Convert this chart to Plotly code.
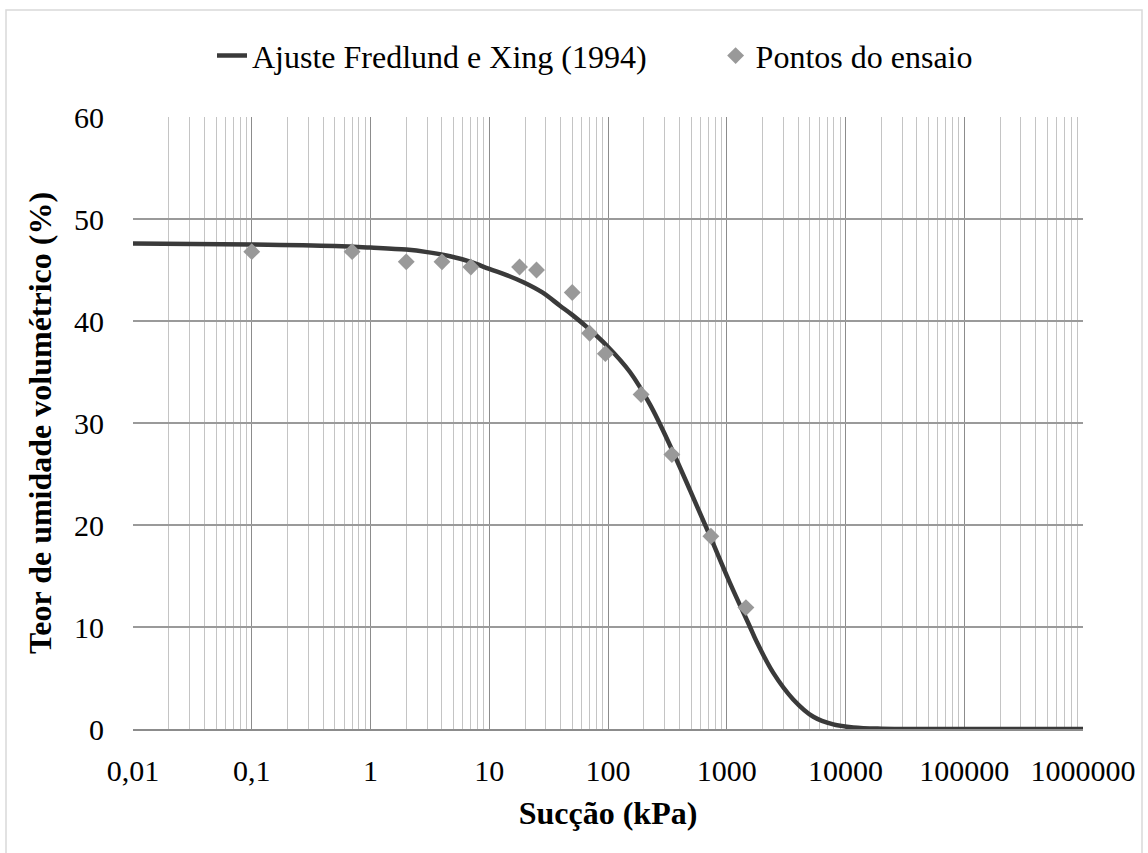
import plotly.graph_objects as go

# ---- data ----
tick_vals = [0.01, 0.1, 1, 10, 100, 1000, 10000, 100000, 1000000]
tick_text = ["0,01", "0,1", "1", "10", "100", "1000", "10000", "100000", "1000000"]
y_ticks = [0, 10, 20, 30, 40, 50, 60]

curve_x = [0.01, 0.1, 0.5, 1, 2, 3, 4.67, 7, 10, 14, 19.4, 28, 39.4, 50, 68, 97.5, 153, 226, 333, 491,
           723, 1065, 1570, 1762, 2466, 3630, 5360, 7890, 11640, 20000, 50000, 1000000]
curve_y = [47.6, 47.5, 47.35, 47.2, 47.0, 46.75, 46.35, 45.8, 45.1, 44.5, 43.8, 42.8, 41.5, 40.6, 39.3, 37.6, 35.0, 31.8, 27.8, 23.4,
           18.9, 14.3, 10.0, 8.7, 5.5, 2.9, 1.2, 0.45, 0.15, 0.03, 0.0, 0.0]

pts_x = [0.1, 0.7, 2, 4, 7, 18, 25, 50, 70, 95, 190, 345, 735, 1450]
pts_y = [46.8, 46.8, 45.8, 45.8, 45.3, 45.3, 45.0, 42.8, 38.8, 36.8, 32.8, 26.9, 18.9, 11.9]

# ---- figure ----
FONT = "Liberation Serif"
L, R, T, B = 133, 65, 117, 124
W, H = 1148, 853
pw, ph = W - L - R, H - T - B

minor_vals = [m * 10 ** e for e in range(-2, 6) for m in range(2, 10)]

fig = go.Figure()
fig.add_trace(go.Scatter(
    x=curve_x, y=curve_y, mode="lines", name="Ajuste Fredlund e Xing (1994)" + "\u00a0" * 8,
    line=dict(color="#3a3a3a", width=4.5, shape="spline", smoothing=1.0),
))
fig.add_trace(go.Scatter(
    x=pts_x, y=pts_y, mode="markers", name="Pontos do ensaio",
    marker=dict(symbol="diamond", size=13, color="#999999", line=dict(width=0)),
))

fig.update_layout(
    width=W, height=H,
    margin=dict(l=L, r=R, t=T, b=B),
    paper_bgcolor="white", plot_bgcolor="white",
    font=dict(family=FONT, size=30, color="#000000"),
    showlegend=True,
    legend=dict(orientation="h", x=(212 - L) / pw, xanchor="left", y=1.1, yanchor="middle",
                font=dict(family=FONT, size=32), bgcolor="rgba(0,0,0,0)",
                tracegroupgap=0),
    xaxis=dict(
        type="log", range=[-2, 6], tickmode="array", tickvals=tick_vals, ticktext=tick_text,
        showgrid=True, gridcolor="#8c8c8c", gridwidth=1,
        minor=dict(tickmode="array", tickvals=minor_vals, showgrid=True,
                   gridcolor="#c4c4c4", gridwidth=1, ticks=""),
        ticks="", ticklabelstandoff=14, zeroline=False,
        showline=True, linecolor="#8c8c8c", linewidth=1.5,
        title=dict(text="<b>Sucção (kPa)</b>", font=dict(family=FONT, size=32), standoff=16),
    ),
    yaxis=dict(
        range=[0, 60], tickmode="array", tickvals=y_ticks,
        showgrid=True, gridcolor="#9a9a9a", gridwidth=1.5,
        ticks="", ticklabelstandoff=28, zeroline=False,
        title=dict(text="<b>Teor de umidade volumétrico (%)</b>", font=dict(family=FONT, size=32), standoff=12),
    ),
    shapes=[dict(type="rect", xref="paper", yref="paper",
                 x0=(6 - L) / pw, x1=(1142 - L) / pw,
                 y0=(H - B - 870) / ph, y1=(H - B - 10) / ph,
                 line=dict(color="#d9d9d9", width=1.5), fillcolor="rgba(0,0,0,0)", layer="below")],
)

fig.write_html("out.html")
